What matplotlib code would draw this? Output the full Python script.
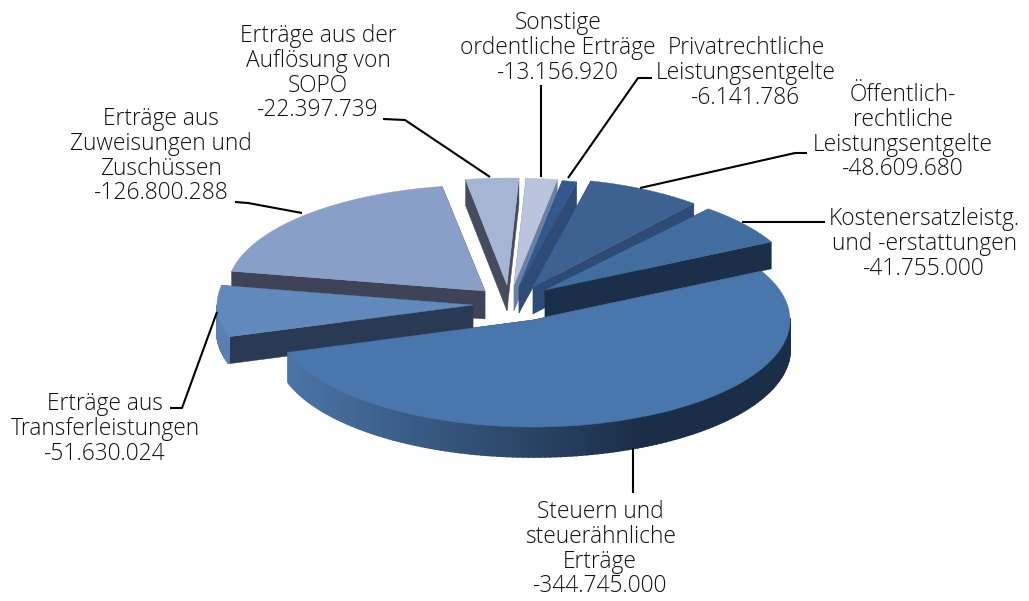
import numpy as np
import matplotlib
matplotlib.use('Agg')
from matplotlib import pyplot as plt
from matplotlib.colors import to_rgb

# slices in clockwise order, back to front is handled in draw_order
names = ['Steuern und\nsteuerähnliche\nErträge',
         'Erträge aus\nTransferleistungen',
         'Erträge aus\nZuweisungen und\nZuschüssen',
         'Erträge aus der\nAuflösung von\nSOPO',
         'Sonstige\nordentliche Erträge',
         'Privatrechtliche\nLeistungsentgelte',
         'Öffentlich-\nrechtliche\nLeistungsentgelte',
         'Kostenersatzleistg.\nund -erstattungen']
values = [344745000, 51630024, 126800288, 22397739, 13156920, 6141786, 48609680, 41755000]
value_labels = ['-344.745.000', '-51.630.024', '-126.800.288', '-22.397.739',
                '-13.156.920', '-6.141.786', '-48.609.680', '-41.755.000']

top_colors = ['#4a76ae', '#6289bc', '#8a9fc8', '#a5b6d4', '#bac5dd', '#33598c', '#3d6291', '#416d9f']
cut_colors = ['#1c2f4a', '#2a3a55', '#3e4357', '#464c5d', '#6a7fa5', '#2d4b75', '#2d4b75', '#1c2f4a']
side_left = ['#4a74a6', '#5a7fb2', '#7f93ba', '#98a8c6', '#acb7cf', '#2f5281', '#385a86', '#3c6594']
side_right = ['#1b2e48', '#2a3a55', '#3e4357', '#464c5d', '#6a7fa5', '#2d4b75', '#2d4b75', '#1c2f4a']

centers = [(533, 320), (473, 305), (485, 291), (507, 285), (514, 285), (519, 287), (533, 287), (545, 290)]
radii = [(257, 107), (256, 105), (258, 106), (250, 107), (250, 107), (250, 108), (250, 109), (254, 106)]
depths = [30, 27, 28, 26, 26, 26, 27, 27]
draw_order = [3, 4, 5, 6, 7, 2, 1, 0]

label_x = [600, 105, 161, 318, 558, 746, 903, 924]
label_y = [512, 404, 119, 36, 23, 48, 95, 219]
leaders = [[(633, 448), (633, 493)],
           [(170, 408), (182, 408), (217, 312)],
           [(235, 202), (248, 203), (302, 213)],
           [(383, 119), (405, 120), (490, 177)],
           [(541, 85), (541, 177)],
           [(652, 78), (638, 78), (568, 178)],
           [(807, 153), (795, 153), (640, 188)],
           [(825, 222), (742, 222)]]

start_angle = 27.0

plt.rcParams['font.family'] = ['Open Sans', 'DejaVu Sans']


def mix(c1, c2, t):
    return tuple((1 - t) * a + t * b for a, b in zip(to_rgb(c1), to_rgb(c2)))


def arc(i, a1, a2, n=80):
    th = np.radians(np.linspace(a1, a2, n))
    cx, cy = centers[i]
    rx, ry = radii[i]
    return cx + rx * np.cos(th), cy - ry * np.sin(th)


def draw_slice(ax, i, a1, a2):
    cx, cy = centers[i]
    d = depths[i]
    # radial cut faces first
    for a in (a1, a2):
        x, y = arc(i, a, a, 2)
        xs = [cx, x[0], x[0], cx]
        ys = [cy, y[0], y[0] + d, cy + d]
        ax.fill(xs, ys, color=cut_colors[i], lw=0.3)
    # outer rim, only the part turned to the viewer
    x, y = arc(i, a1, a2, 160)
    for k in range(len(x) - 1):
        if y[k] < cy and y[k + 1] < cy:
            continue
        t = np.clip((x[k] - 290) / 350, 0, 1)
        ax.fill([x[k], x[k + 1], x[k + 1], x[k]],
                [y[k], y[k + 1], y[k + 1] + d, y[k] + d],
                color=mix(side_left[i], side_right[i], t), lw=1.2)
    ax.fill(np.r_[cx, x], np.r_[cy, y], color=top_colors[i], lw=0.3)


fig = plt.figure(figsize=(10.29, 6.01), dpi=100)
ax = fig.add_axes([0, 0, 1, 1])
ax.set_xlim(0, 1029)
ax.set_ylim(601, 0)
ax.axis('off')

sweep = 360 * np.array(values) / sum(values)
ends = start_angle - np.cumsum(sweep)
starts = ends + sweep

for i in draw_order:
    draw_slice(ax, i, ends[i], starts[i])

for pts in leaders:
    xs, ys = zip(*pts)
    ax.plot(xs, ys, color='black', lw=1.5, solid_capstyle='butt')

# line by line, the spacing of the labels is fixed in pixels
for i in range(len(names)):
    lines = (names[i] + '\n' + value_labels[i]).split('\n')
    for j, line in enumerate(lines):
        ax.text(label_x[i], label_y[i] + j * 24.8, line, ha='center', va='center',
                fontsize=16.4, fontweight='light', color='#111111')

fig.savefig('out.png', dpi=100)
